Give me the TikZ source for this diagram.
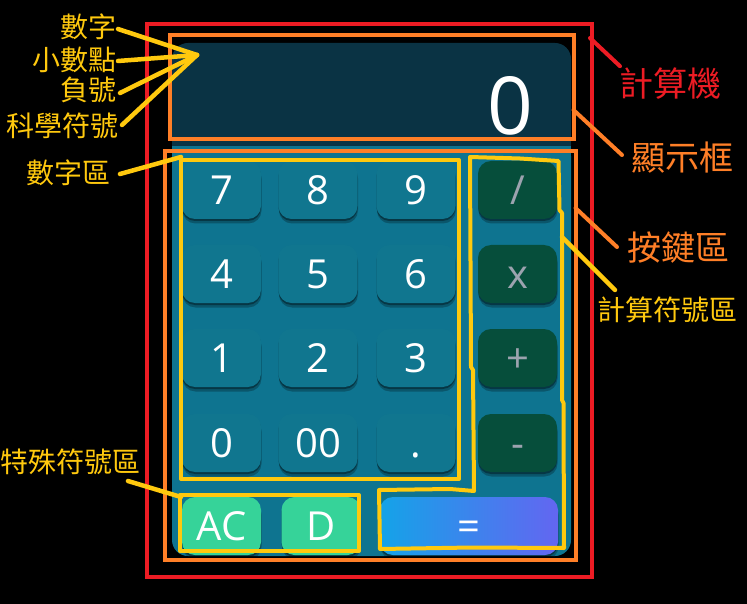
\documentclass[tikz,border=0pt]{standalone}
\usepackage{fontspec}
\setmainfont{Open Sans}
\newfontfamily\cjk{Noto Sans CJK TC}
\usetikzlibrary{shadows}
\definecolor{cRed}{HTML}{ED1C24}
\definecolor{cOrange}{HTML}{FF7F27}
\definecolor{cYellow}{HTML}{FFC90E}
\definecolor{cDisplay}{HTML}{0A3344}
\definecolor{cBody}{HTML}{0E7490}
\definecolor{cNum}{HTML}{10768F}
\definecolor{cOp}{HTML}{064E3B}
\definecolor{cOpText}{HTML}{9CA3AF}
\definecolor{cSpecial}{HTML}{36D399}
\definecolor{cEqL}{HTML}{14A3E8}
\definecolor{cEqR}{HTML}{6366F1}
\begin{document}
\begin{tikzpicture}[x=1pt,y=-1pt,
  every node/.style={inner sep=0pt,outer sep=0pt},
  keybtn/.style={rounded corners=13pt,minimum width=79pt,minimum height=58pt,
    font=\fontsize{40}{48}\selectfont,text height=29pt,text depth=0pt,
    general shadow={fill=black,opacity=0.25,shadow xshift=0.5pt,shadow yshift=-4.5pt},
    general shadow={fill=black,opacity=0.35,shadow xshift=0pt,shadow yshift=-2pt}},
  numkey/.style={keybtn,fill=cNum,text=white},
  opkey/.style={keybtn,fill=cOp,text=cOpText},
  spkey/.style={keybtn,fill=cSpecial,text=white},
  eqkey/.style={keybtn,minimum width=178pt,left color=cEqL,right color=cEqR,text=white},
  lbl/.style={font=\cjk\fontsize{28}{32}\selectfont},
  biglbl/.style={font=\cjk\fontsize{34}{38}\selectfont},
  rbox/.style={draw=cRed,line width=4pt},
  obox/.style={draw=cOrange,line width=4pt},
  ybox/.style={draw=cYellow,line width=4pt,line join=round},
  rline/.style={draw=cRed,line width=4pt,line cap=round},
  oline/.style={draw=cOrange,line width=4pt,line cap=round},
  yline/.style={draw=cYellow,line width=4.5pt,line cap=round}]
\useasboundingbox (0,0) rectangle (747,604);
\fill[black] (0,0) rectangle (747,604);
% calculator body
\fill[cBody,rounded corners=16pt] (172,140) rectangle (571,556);
\fill[cBody] (172,140) rectangle (571,170);
\fill[cDisplay,rounded corners=16pt] (172,43) rectangle (571,146);
\fill[cDisplay] (172,120) rectangle (571,146);
\node[anchor=base east,text=white,font=\fontsize{80}{90}\selectfont] (disp) at (533,135) {0};
% keys
\node[numkey] (k7) at (221.5,190) {7};
\node[numkey] (k8) at (318,190) {8};
\node[numkey] (k9) at (416,190) {9};
\node[opkey] (kdiv) at (517.5,190) {/};
\node[numkey] (k4) at (221.5,274) {4};
\node[numkey] (k5) at (318,274) {5};
\node[numkey] (k6) at (416,274) {6};
\node[opkey] (kmul) at (517.5,274) {x};
\node[numkey] (k1) at (221.5,358) {1};
\node[numkey] (k2) at (318,358) {2};
\node[numkey] (k3) at (416,358) {3};
\node[opkey] (kadd) at (517.5,358) {+};
\node[numkey] (k0) at (221.5,443) {0};
\node[numkey] (k00) at (318,443) {00};
\node[numkey] (kdot) at (416,443) {.};
\node[opkey] (ksub) at (517.5,443) {-};
\node[spkey] (kac) at (221.5,526) {AC};
\node[spkey] (kd) at (321,526) {D};
\node[eqkey] (keq) at (469,526) {=};
% annotation boxes
\draw[rbox] (147,24) rectangle (591.5,577);
\draw[obox] (169.5,35) rectangle (573.5,139);
\draw[obox] (165,151) rectangle (575.5,559.5);
\draw[ybox] (181,160) rectangle (459,479);
\draw[ybox] (180,495) rectangle (359,551);
\draw[ybox] (470,157) -- (520,158.5) -- (558.5,161) -- (559.5,210) -- (562,213) -- (562,400)
  -- (563.5,403) -- (564,548) -- (472,547.5) -- (380,549) -- (379,490) -- (450,489)
  -- (474,491) -- (473,370) -- (471,367) -- cycle;
% left labels
\coordinate (conv) at (197,55);
\node[lbl,text=cYellow,anchor=east] (lsz) at (116,27) {數字};
\node[lbl,text=cYellow,anchor=east] (lxsd) at (116,60) {小數點};
\node[lbl,text=cYellow,anchor=east] (lfh) at (116,90) {負號};
\node[lbl,text=cYellow,anchor=east] (lkx) at (118,126) {科學符號};
\node[lbl,text=cYellow,anchor=east] (lszq) at (111,173) {數字區};
\node[lbl,text=cYellow,anchor=west] (ltsf) at (1,462) {特殊符號區};
\draw[yline] ([xshift=2pt,yshift=-2pt]lsz.east) -- (conv);
\draw[yline] ([xshift=2pt,yshift=-1pt]lxsd.east) -- (conv);
\draw[yline] ([xshift=4pt,yshift=-3pt]lfh.east) -- (conv);
\draw[yline] ([xshift=4pt,yshift=1pt]lkx.east) -- (conv);
\draw[yline] ([xshift=9pt,yshift=-1pt]lszq.east) -- (181,157);
\draw[yline] ([xshift=-13pt,yshift=-19pt]ltsf.east) -- (181,497);
% right labels
\node[biglbl,text=cRed,anchor=west] (ljsj) at (619,84) {計算機};
\node[biglbl,text=cOrange,anchor=west] (lxsk) at (631,158) {顯示框};
\node[biglbl,text=cOrange,anchor=west] (lajq) at (627,248) {按鍵區};
\node[lbl,text=cYellow,anchor=west] (ljsf) at (597,310) {計算符號區};
\draw[rline] (590,38) -- ([xshift=1pt,yshift=2pt]ljsj.north west);
\draw[oline] (573.5,110) -- ([xshift=-9pt,yshift=3pt]lxsk.west);
\draw[oline] (575.5,208) -- ([xshift=-10pt,yshift=1pt]lajq.west);
\draw[yline] (562,237) -- ([xshift=18pt,yshift=7pt]ljsf.north west);
\end{tikzpicture}
\end{document}
